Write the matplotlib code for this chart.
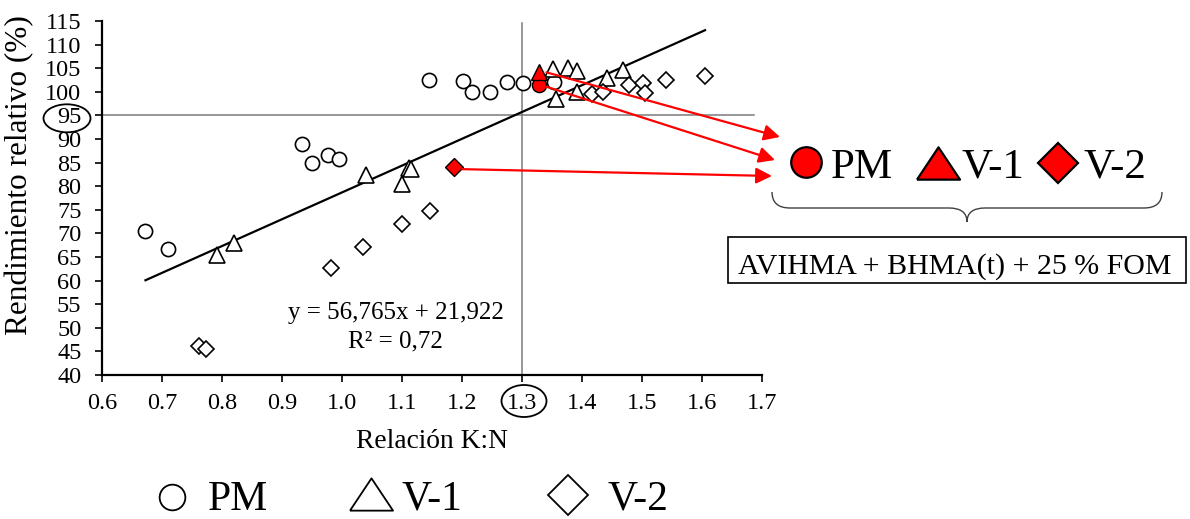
import matplotlib
matplotlib.use("Agg")
import matplotlib.pyplot as plt
import numpy as np
from matplotlib.patches import Ellipse, Rectangle, PathPatch
from matplotlib.path import Path

plt.rcParams['font.family'] = ['Liberation Serif', 'DejaVu Serif']

# ---------------- data ----------------
pm_x = [0.672, 0.709, 0.933, 0.950, 0.977, 0.995, 1.145, 1.201, 1.217, 1.246, 1.274, 1.301, 1.353]
pm_y = [70.6, 66.6, 88.9, 84.9, 86.7, 85.8, 102.4, 102.3, 99.9, 99.9, 102.0, 101.8, 102.0]

v1_x = [0.791, 0.820, 1.040, 1.100, 1.111, 1.115, 1.352, 1.377, 1.392, 1.356, 1.392, 1.441, 1.469]
v1_y = [65.5, 68.0, 82.4, 80.4, 83.8, 83.6, 104.8, 105.1, 104.4, 98.4, 99.9, 103.0, 104.6]

v2_x = [0.761, 0.773, 0.982, 1.034, 1.100, 1.146, 1.416, 1.435, 1.478, 1.501, 1.505, 1.540, 1.605]
v2_y = [46.2, 45.5, 62.7, 67.2, 72.0, 74.7, 99.5, 100.0, 101.4, 101.9, 99.7, 102.5, 103.3]

# highlighted treatment (AVIHMA + BHMA(t) + 25 % FOM)
red_pm = (1.328, 101.4)
red_v1 = (1.328, 104.1)
red_v2 = (1.186, 84.0)

slope, intercept = 56.765, 21.922
eq_text = "y = 56,765x + 21,922"
r2_text = "R² = 0,72"
x_ticks = [0.6, 0.7, 0.8, 0.9, 1.0, 1.1, 1.2, 1.3, 1.4, 1.5, 1.6, 1.7]
y_ticks = list(range(40, 116, 5))
ref_x, ref_y = 1.3, 95
series_names = ["PM", "V-1", "V-2"]
box_text = "AVIHMA + BHMA(t) + 25 % FOM"

# ---------------- figure ----------------
W, H = 1190, 519
fig = plt.figure(figsize=(W / 100, H / 100), dpi=100)
ax = fig.add_axes([102.3 / W, (H - 375) / H, 659.7 / W, 354.1 / H])
ax.set_xlim(0.6, 1.7)
ax.set_ylim(40, 115)
for s in ['top', 'right']:
    ax.spines[s].set_visible(False)
for s in ['left', 'bottom']:
    ax.spines[s].set_linewidth(1.6)
    ax.spines[s].set_color('black')
ax.set_xticks(x_ticks)
ax.set_xticklabels([f"{t:.1f}" for t in x_ticks])
ax.set_yticks(y_ticks)
ax.tick_params(axis='both', direction='out', length=5, width=1.2, labelsize=17.5)
ax.tick_params(axis='x', pad=8)
ax.tick_params(axis='y', pad=10)
ax.patch.set_alpha(0)

# reference lines
ax.plot([0.6, 1.686], [ref_y, ref_y], color='#7a7a7a', lw=1.1, zorder=1, clip_on=False)
ax.plot([ref_x, ref_x], [40, 114.5], color='#7a7a7a', lw=1.1, zorder=1, clip_on=False)

# trend line
all_x = pm_x + v1_x + v2_x + [red_pm[0], red_v1[0], red_v2[0]]
xl = np.array([min(all_x), max(all_x)])
ax.plot(xl, slope * xl + intercept, color='black', lw=1.6, zorder=2)

mk = dict(linestyle='none', markerfacecolor='white', markeredgecolor='black', markeredgewidth=1.2, zorder=3)
ax.plot(pm_x, pm_y, marker='o', markersize=10.2, **mk)
ax.plot(v1_x, v1_y, marker='^', markersize=11, **mk)
ax.plot(v2_x, v2_y, marker='D', markersize=8.6, **mk)

rk = dict(linestyle='none', markerfacecolor='red', markeredgecolor='black', markeredgewidth=1.0, zorder=5)
ax.plot([red_pm[0]], [red_pm[1]], marker='o', markersize=10.2, **rk)
ax.plot([red_v1[0]], [red_v1[1]], marker='^', markersize=11, **rk)
ax.plot([red_v2[0]], [red_v2[1]], marker='D', markersize=8.8, **rk)

ax.text(1.0895, 53.1, eq_text, ha='center', va='center', fontsize=18)
ax.text(1.0895, 47.0, r2_text, ha='center', va='center', fontsize=18)

ax.set_xlabel("Relación K:N", fontsize=19.8)
ax.set_ylabel("Rendimiento relativo (%)", fontsize=22.5)
ax.xaxis.set_label_coords(0.5, (375 - 429) / 354.1)
ax.yaxis.set_label_coords((34 - 102.3) / 659.7, (375 - 175) / 354.1)

# ---------------- overlay (pixel coordinates) ----------------
ov = fig.add_axes([0, 0, 1, 1], zorder=10)
ov.set_xlim(0, W)
ov.set_ylim(H, 0)
ov.axis('off')
ov.patch.set_alpha(0)

# ellipses around 95 and 1.3
ov.add_patch(Ellipse((67, 118.3), 47, 28, fill=False, ec='black', lw=1.3))
ov.add_patch(Ellipse((524, 401), 45, 32, fill=False, ec='black', lw=1.3))

# arrows
arrow_props = dict(arrowstyle='-|>', color='red', lw=1.6, mutation_scale=24, shrinkA=0, shrinkB=0)
ov.annotate('', xy=(780, 137), xycoords='data', xytext=(1.3407, 104.1), textcoords=ax.transData, arrowprops=arrow_props)
ov.annotate('', xy=(775, 160), xycoords='data', xytext=(1.3407, 101.05), textcoords=ax.transData, arrowprops=arrow_props)
ov.annotate('', xy=(772, 176), xycoords='data', xytext=(1.1995, 83.6), textcoords=ax.transData, arrowprops=arrow_props)

tri_wide = [(-1, -0.75), (1, -0.75), (0, 0.75), (-1, -0.75)]

# right (red) legend
ov.plot([806], [162], marker='o', markersize=22, mfc='red', mec='black', mew=1.6, clip_on=False)
ov.plot([938], [163], marker=tri_wide, markersize=31, mfc='red', mec='black', mew=1.6, clip_on=False)
ov.plot([1058], [163], marker='D', markersize=20, mfc='red', mec='black', mew=1.6, clip_on=False)
for xs, name in zip([831, 961, 1083], series_names):
    ov.text(xs, 178, name, fontsize=31, ha='left', va='baseline')

# brace
verts = [(772, 192), (772, 208), (790, 208), (949, 208), (967, 208), (967, 222),
         (967, 208), (985, 208), (1144, 208), (1162, 208), (1162, 192)]
codes = [Path.MOVETO, Path.CURVE3, Path.CURVE3, Path.LINETO, Path.CURVE3, Path.CURVE3,
         Path.CURVE3, Path.CURVE3, Path.LINETO, Path.CURVE3, Path.CURVE3]
ov.add_patch(PathPatch(Path(verts, codes), fill=False, ec='#404040', lw=1.0))

# box
ov.add_patch(Rectangle((728, 236.7), 458, 46.6, fill=False, ec='black', lw=1.2))
ov.text(955, 273.3, box_text, fontsize=21.5, ha='center', va='baseline')

# bottom legend
ov.plot([171.7], [497], marker='o', markersize=18.5, mfc='white', mec='black', mew=1.3, clip_on=False)
ov.plot([371.3], [494], marker=tri_wide, markersize=31, mfc='white', mec='black', mew=1.3, clip_on=False)
ov.plot([568], [495], marker='D', markersize=20.5, mfc='white', mec='black', mew=1.3, clip_on=False)
for xs, name in zip([208, 402, 607], series_names):
    ov.text(xs, 509.5, name, fontsize=30, ha='left', va='baseline')

fig.savefig("out.png", dpi=100)
